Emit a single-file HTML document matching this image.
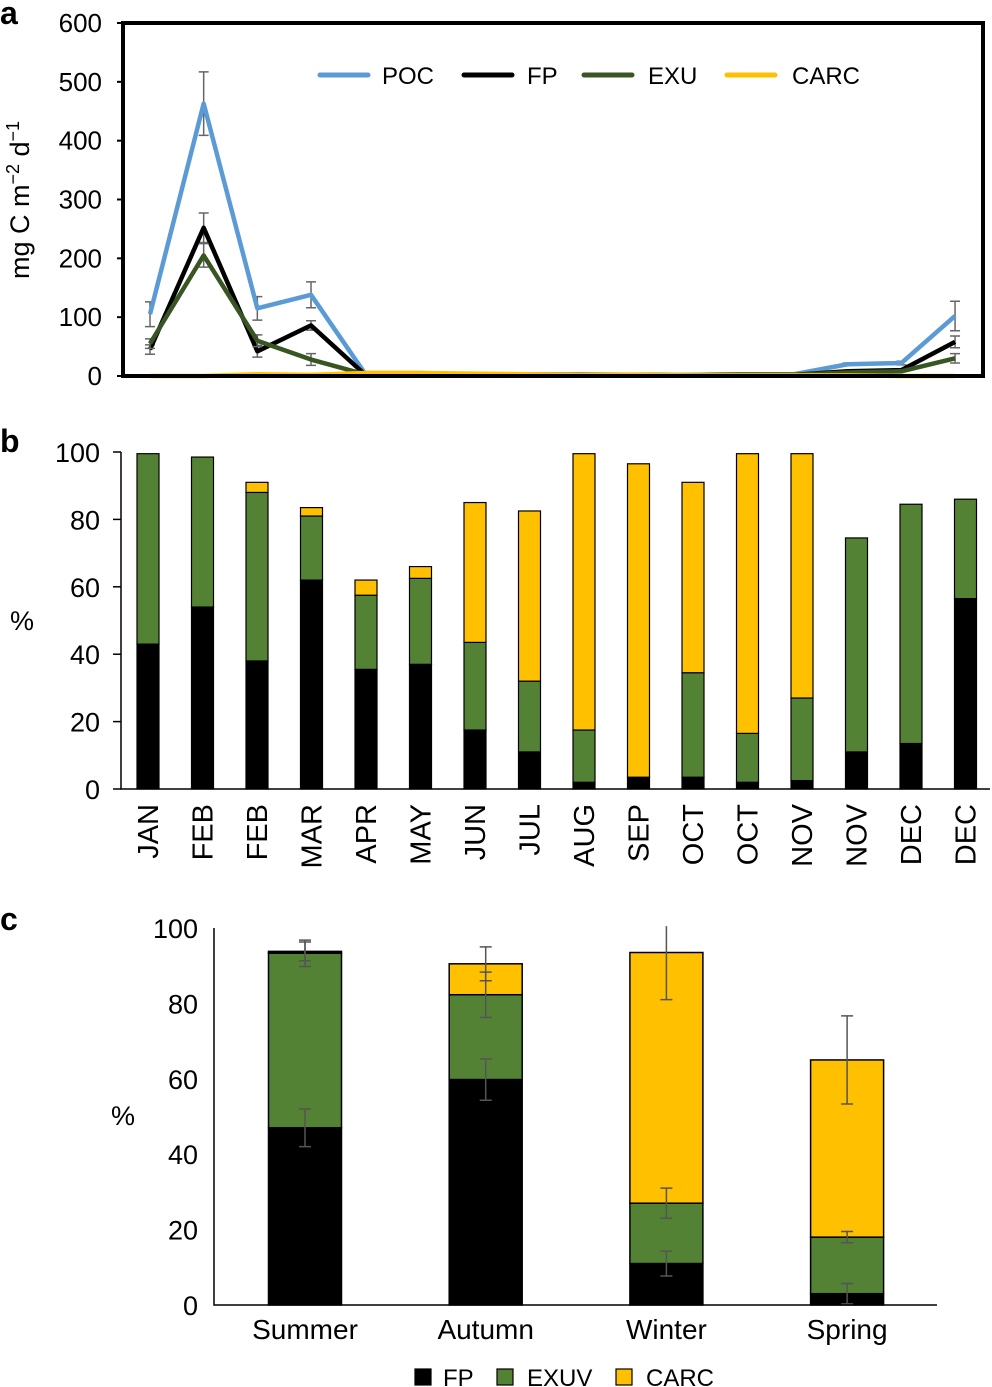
<!DOCTYPE html>
<html><head><meta charset="utf-8">
<style>
html,body{margin:0;padding:0;background:#fff;}
svg{display:block;font-family:"Liberation Sans",Arial,sans-serif;}
</style></head>
<body>
<svg id="fig" width="992" height="1387" viewBox="0 0 992 1387" xmlns="http://www.w3.org/2000/svg">
<text x="0" y="24" font-size="32" font-weight="bold">a</text>
<text x="0" y="452" font-size="32" font-weight="bold">b</text>
<text x="0" y="930" font-size="32" font-weight="bold">c</text>
<text transform="translate(29,200) rotate(-90)" text-anchor="middle" font-size="27">mg C m<tspan dy="-10" font-size="18">−2</tspan><tspan dy="10"> d</tspan><tspan dy="-10" font-size="18">−1</tspan></text>
<text x="22" y="630" text-anchor="middle" font-size="27">%</text>
<text x="123" y="1125" text-anchor="middle" font-size="27">%</text>
<g id="pa"></g>
<g id="pb"></g>
<g id="pc"></g>
</svg>
<script>
// ---------- Panel a data ----------
const aTicks = [0,100,200,300,400,500,600];
const aPOC  = [105,463,115,138,5,5,3,3,3,2,2,3,3,20,22,102];
const aFP   = [45,252,42,86,3,4,3,2,2,2,1,2,2,8,10,58];
const aEXU  = [55,205,60,28,3,4,3,2,2,2,1,2,2,6,8,30];
const aCARC = [0,0,3,2,5,5,4,3,2,2,1,1,1,1,0,0];
const aPOCerr = [21,54,20,22,0,0,0,0,0,0,0,0,0,2,3,25];
const aFPerr  = [8,25,10,8,0,0,0,0,0,0,0,0,0,0,0,10];
const aEXUerr = [8,20,10,10,0,0,0,0,0,0,0,0,0,0,0,8];

// ---------- Panel b data ----------
const bMonths = ["JAN","FEB","FEB","MAR","APR","MAY","JUN","JUL","AUG","SEP","OCT","OCT","NOV","NOV","DEC","DEC"];
const bFP   = [43,54,38,62,35.5,37,17.5,11,2,3.5,3.5,2,2.5,11,13.5,56.5];
const bEXU  = [56.5,44.5,50,19,22,25.5,26,21,15.5,0,31,14.5,24.5,63.5,71,29.5];
const bCARC = [0,0,3,2.5,4.5,3.5,41.5,50.5,82,93,56.5,83,72.5,0,0,0];
const bTicks = [0,20,40,60,80,100];

// ---------- Panel c data ----------
const cSeasons = ["Summer","Autumn","Winter","Spring"];
const cFP   = [47,59.8,11,3];
const cEXU  = [46.3,22.5,16,15];
const cCARC = [0.5,8.2,66.5,47];
const cFPerr   = [5,5.5,3.3,2.7];
const cEXUerr  = [3.5,6,4,1.5];
const cCARCerr = [2.5,4.5,12.5,11.7];
const cTicks = [0,20,40,60,80,100];

const NS="http://www.w3.org/2000/svg";
function mk(parent,tag,attrs,txt){const e=document.createElementNS(NS,tag);for(const k in attrs)e.setAttribute(k,attrs[k]);if(txt!==undefined)e.textContent=txt;parent.appendChild(e);return e;}

// ---------- Panel a ----------
(function(){
  const g=document.getElementById('pa');
  const x0=123,x1=983,yT=23,yB=376;
  const y=v=>yB-(v/600)*(yB-yT);
  const x=i=>150+i*53.67;
  aTicks.forEach(t=>{
    const tl=mk(g,'line',{x1:x0-6,x2:x0,y1:y(t),y2:y(t),stroke:'#000','stroke-width':2});
    
    
    const tx=mk(g,'text',{x:x0-21,y:y(t)+9,'text-anchor':'end','font-size':26},String(t));
    
    
  });
  const series=[[aPOC,'#5B9BD5',aPOCerr,'poc-line'],[aFP,'#000',aFPerr,'fp-line'],[aEXU,'#375623',aEXUerr,'exu-line'],[aCARC,'#FFC000',null,'carc-line']];
  series.forEach(([d,c,err,nm])=>{
    if(err) d.forEach((v,i)=>{ if(err[i]>0){
      const eg=mk(g,'path',{d:`M${x(i)},${y(v+err[i])}V${y(Math.max(0,v-err[i]))}M${x(i)-5},${y(v+err[i])}h10M${x(i)-5},${y(Math.max(0,v-err[i]))}h10`,stroke:'#666','stroke-width':1.5,fill:'none'});
      
      
    }});
    const p=mk(g,'polyline',{points:d.map((v,i)=>x(i)+','+y(v)).join(' '),fill:'none',stroke:c,'stroke-width':4.5,'stroke-linejoin':'round'});
    
    
  });
  const fr=mk(g,'rect',{x:x0,y:yT,width:x1-x0,height:yB-yT,fill:'none',stroke:'#000','stroke-width':4});
  
  
  const leg=[['POC','#5B9BD5',320,382],['FP','#000',464,527],['EXU','#375623',584,648],['CARC','#FFC000',727,792]];
  leg.forEach(([t,c,lx,tx])=>{
    const l=mk(g,'line',{x1:lx,x2:lx+48,y1:75,y2:75,stroke:c,'stroke-width':5,'stroke-linecap':'round'});
    
    
    const te=mk(g,'text',{x:tx,y:84,'font-size':24},t);
    
    
  });
})();

// ---------- Panel b ----------
(function(){
  const g=document.getElementById('pb');
  const x0=121,yB=789,yT=452;
  const y=v=>yB-(v/100)*(yB-yT);
  const cx=i=>148+i*54.5;
  const w=22;
  bTicks.forEach(t=>{
    const tl=mk(g,'line',{x1:x0-8,x2:x0,y1:y(t),y2:y(t),stroke:'#000','stroke-width':1.5});
    
    
    const tx=mk(g,'text',{x:x0-21,y:y(t)+10,'text-anchor':'end','font-size':27},String(t));
    
    
  });
  bMonths.forEach((m,i)=>{
    let base=0;
    [[bFP[i],'#000','fp'],[bEXU[i],'#548235','exu'],[bCARC[i],'#FFC000','carc']].forEach(([v,c,n])=>{
      if(v<=0)return;
      const r=mk(g,'rect',{x:cx(i)-w/2,y:y(base+v),width:w,height:y(base)-y(base+v),fill:c,stroke:'#000','stroke-width':1.2});
      
      
      base+=v;
    });
    const t=mk(g,'text',{transform:`translate(${cx(i)+10},804) rotate(-90)`,'text-anchor':'end','font-size':29},m);
    
    
  });
  const ax=mk(g,'path',{d:`M${x0},${yT}V${yB}H990`,stroke:'#000','stroke-width':1.5,fill:'none'});
  
  
})();

// ---------- Panel c ----------
(function(){
  const g=document.getElementById('pc');
  const x0=214,yB=1305,yT=928;
  const y=v=>yB-(v/100)*(yB-yT);
  const cx=i=>305+i*180.7;
  const w=73;
  cTicks.forEach(t=>{
    const tx=mk(g,'text',{x:198,y:y(t)+10,'text-anchor':'end','font-size':27},String(t));
    
    
  });
  cSeasons.forEach((s,i)=>{
    let base=0;const tops=[];
    [[cFP[i],'#000','fp'],[cEXU[i],'#548235','exuv'],[cCARC[i],'#FFC000','carc']].forEach(([v,c,n])=>{
      const r=mk(g,'rect',{x:cx(i)-w/2,y:y(base+v),width:w,height:y(base)-y(base+v),fill:(n==='carc'&&v<1)?'#000':c,stroke:'#000','stroke-width':1.5});
      
      
      base+=v;tops.push(base);
    });
    [cFPerr[i],cEXUerr[i],cCARCerr[i]].forEach((e,k)=>{
      const lo=Math.max(0,tops[k]-e),hi=Math.min(100.5,tops[k]+e);
      const cap=hi>=100.5?'':`M${cx(i)-6},${y(hi)}h12`;
      const p=mk(g,'path',{d:`M${cx(i)},${y(hi)}V${y(lo)}${cap}M${cx(i)-6},${y(lo)}h12`,stroke:'#555','stroke-width':1.5,fill:'none'});
      
      
    });
    const t=mk(g,'text',{x:cx(i),y:1339,'text-anchor':'middle','font-size':28},s);
    
    
  });
  const ax=mk(g,'path',{d:`M${x0},${yT}V${yB}H937`,stroke:'#000','stroke-width':1.5,fill:'none'});
  
  
  [['FP','#000',415,443],['EXUV','#548235',497,527],['CARC','#FFC000',616,646]].forEach(([t,c,sx,tx])=>{
    const r=mk(g,'rect',{x:sx,y:1369,width:16,height:16,fill:c,stroke:'#000','stroke-width':1.2});
    
    
    const te=mk(g,'text',{x:tx,y:1386,'font-size':24},t);
    
    
  });
})();
</script>
</body></html>
